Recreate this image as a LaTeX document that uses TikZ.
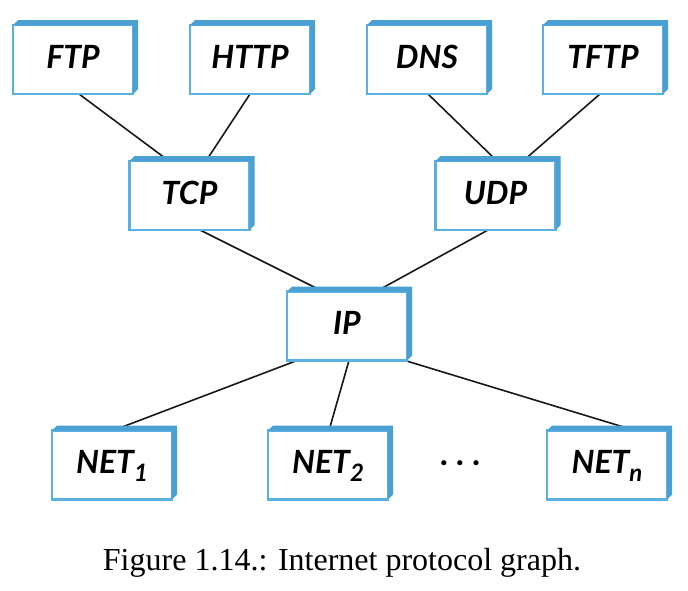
\documentclass[tikz,border=0pt]{standalone}
\usepackage{fontspec}
\setmainfont{Liberation Serif}
\newfontfamily\lblfont{Lato}
\usetikzlibrary{backgrounds}
\definecolor{extblue}{HTML}{4A9FD3}
\definecolor{faceblue}{HTML}{5BB0E2}
\tikzset{
  proto/.style={draw=faceblue, line width=2.5pt, fill=white,
    minimum width=120pt, minimum height=69pt, inner sep=0pt, outer sep=0pt,
    text height=23pt, text depth=6pt,
    font=\lblfont\bfseries\itshape\fontsize{32}{36}\selectfont},
  link/.style={line width=1.6pt, draw=black!90},
  ext/.style={fill=extblue}
}
\newcommand\extrudebox[1]{%
  \fill[ext] (#1.north west) -- ++(5,-5) -- ([shift={(5,-5)}]#1.north east)
    -- ([shift={(5,-5)}]#1.south east) -- (#1.south east) -- (#1.north east) -- cycle;}
\newcommand\subsc[1]{\raisebox{-0.25em}{\fontsize{24}{26}\selectfont #1}}
\begin{document}
\begin{tikzpicture}[x=1pt,y=-1pt]
\useasboundingbox (0,0) rectangle (688,590);
% boxes
\node[proto] (FTP)  at (73,59.5)   {FTP};
\node[proto] (HTTP) at (250,59.5)  {HTTP};
\node[proto] (DNS)  at (427,59.5)  {DNS};
\node[proto] (TFTP) at (603,59.5)  {TFTP};
\node[proto] (TCP)  at (189.5,195.5) {TCP};
\node[proto] (UDP)  at (495.5,195.5) {UDP};
\node[proto] (IP)   at (347,326)   {IP};
\node[proto] (NET1) at (112,465)   {NET\subsc{1}};
\node[proto] (NET2) at (328,465)   {NET\subsc{2}};
\node[proto] (NETn) at (607,465)   {NET\subsc{n}};
\foreach \b in {FTP,HTTP,DNS,TFTP,TCP,UDP,IP,NET1,NET2,NETn}{\extrudebox{\b}}
\node[font=\lblfont\bfseries\fontsize{34}{36}\selectfont, inner sep=0pt] (dots) at (460,463) {.\hspace{8pt}.\hspace{8pt}.};
% connectors
\begin{scope}[on background layer]
\fill[white] (0,0) rectangle (688,590);
\draw[link] ([xshift=6]FTP.south) -- ([xshift=-20.5]TCP.north);
\draw[link] ([xshift=0]HTTP.south) -- ([xshift=16.5]TCP.north);
\draw[link] ([xshift=1]DNS.south) -- ([xshift=1.5]UDP.north);
\draw[link] ([xshift=-3]TFTP.south) -- ([xshift=27.5]UDP.north);
\draw[link] ([xshift=10.5]TCP.south) -- ([xshift=-24]IP.north);
\draw[link] ([xshift=-7.5]UDP.south) -- ([xshift=29]IP.north);
\draw[link] ([xshift=-50]IP.south) -- ([xshift=1]NET1.north);
\draw[link] ([xshift=2]IP.south) -- ([xshift=1]NET2.north);
\draw[link] ([xshift=58]IP.south) -- ([xshift=28]NETn.north);
\end{scope}
\node[anchor=base, font=\fontsize{32}{36}\selectfont, inner sep=0pt] (cap) at (342,570) {Figure 1.14.: Internet protocol graph.};
\end{tikzpicture}
\end{document}
